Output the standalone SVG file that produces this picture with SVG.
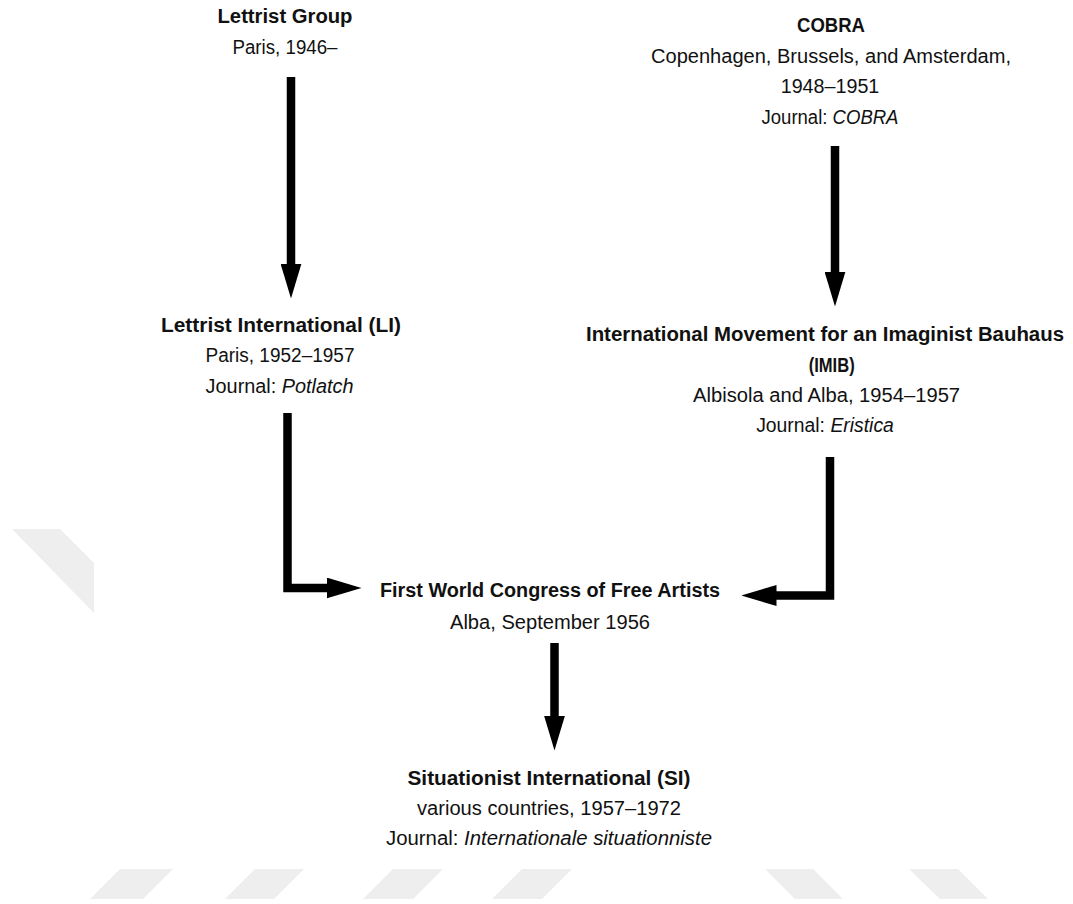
<svg xmlns="http://www.w3.org/2000/svg" width="1073" height="904" viewBox="0 0 1073 904">
<style>
text{font-family:"Liberation Sans",Arial,sans-serif;fill:#111;text-anchor:middle}
.b{font-weight:bold;font-size:20px}
.r{font-size:20px}
.i{font-style:italic}
.wm{fill:#eeeeee}
.conn{fill:none;stroke:#000;stroke-width:8.5;stroke-linejoin:miter;stroke-linecap:butt;marker-end:url(#ah)}
</style>
<defs>
<marker id="ah" markerUnits="userSpaceOnUse" viewBox="0 0 35 21" markerWidth="35" markerHeight="21" refX="0.5" refY="10.5" orient="auto">
<path d="M0,0 L35,10.5 L0,21 Z" fill="#000"/>
</marker>
</defs>
<rect width="1073" height="904" fill="#fff"/>
<g id="watermark">
<polygon class="wm" points="12,529 60,529 94,563 94,613"/>
<polygon class="wm" points="120,869 173,869 143,899 90,899"/>
<polygon class="wm" points="255,869 304,869 274,899 225,899"/>
<polygon class="wm" points="393,869 443,869 413,899 363,899"/>
<polygon class="wm" points="522,869 572,869 542,899 492,899"/>
<polygon class="wm" points="765,869 813,869 843,899 795,899"/>
<polygon class="wm" points="909,869 958,869 988,899 940,899"/>
</g>
<g id="connectors">
<path class="conn" d="M291,77 V264"/>
<path class="conn" d="M835,146 V272"/>
<path class="conn" d="M287.5,413 V588 H327"/>
<path class="conn" d="M830,457 V595.5 H776"/>
<path class="conn" d="M554.5,643 V716"/>
</g>
<g id="lettrist-group">
<text class="b" x="285" y="22.7" textLength="135" lengthAdjust="spacingAndGlyphs">Lettrist Group</text>
<text class="r" x="285" y="54" textLength="105" lengthAdjust="spacingAndGlyphs">Paris, 1946–</text>
</g>
<g id="lettrist-international">
<text class="b" x="281" y="331.7" textLength="240" lengthAdjust="spacingAndGlyphs">Lettrist International (LI)</text>
<text class="r" x="280" y="362.3" textLength="149" lengthAdjust="spacingAndGlyphs">Paris, 1952–1957</text>
<text class="r" x="279.6" y="392.7" textLength="148" lengthAdjust="spacingAndGlyphs">Journal: <tspan class="i">Potlatch</tspan></text>
</g>
<g id="cobra">
<text class="b" x="831" y="31.7" textLength="68" lengthAdjust="spacingAndGlyphs">COBRA</text>
<text class="r" x="831" y="63.3" textLength="360" lengthAdjust="spacingAndGlyphs">Copenhagen, Brussels, and Amsterdam,</text>
<text class="r" x="830" y="93.3" textLength="98.6" lengthAdjust="spacingAndGlyphs">1948–1951</text>
<text class="r" x="830" y="124.3" textLength="137" lengthAdjust="spacingAndGlyphs">Journal: <tspan class="i">COBRA</tspan></text>
</g>
<g id="imib">
<text class="b" x="825" y="340.7" textLength="478" lengthAdjust="spacingAndGlyphs">International Movement for an Imaginist Bauhaus</text>
<text class="b" x="831.7" y="371.7" textLength="46" lengthAdjust="spacingAndGlyphs">(IMIB)</text>
<text class="r" x="826.6" y="401.7" textLength="267" lengthAdjust="spacingAndGlyphs">Albisola and Alba, 1954–1957</text>
<text class="r" x="825" y="431.7" textLength="137.7" lengthAdjust="spacingAndGlyphs">Journal: <tspan class="i">Eristica</tspan></text>
</g>
<g id="congress">
<text class="b" x="550" y="597.3" textLength="340" lengthAdjust="spacingAndGlyphs">First World Congress of Free Artists</text>
<text class="r" x="550" y="629" textLength="200" lengthAdjust="spacingAndGlyphs">Alba, September 1956</text>
</g>
<g id="situationist-international">
<text class="b" x="549" y="784.5" textLength="283" lengthAdjust="spacingAndGlyphs">Situationist International (SI)</text>
<text class="r" x="549" y="814.5" textLength="264" lengthAdjust="spacingAndGlyphs">various countries, 1957–1972</text>
<text class="r" x="549" y="845" textLength="326" lengthAdjust="spacingAndGlyphs">Journal: <tspan class="i">Internationale situationniste</tspan></text>
</g>
</svg>
